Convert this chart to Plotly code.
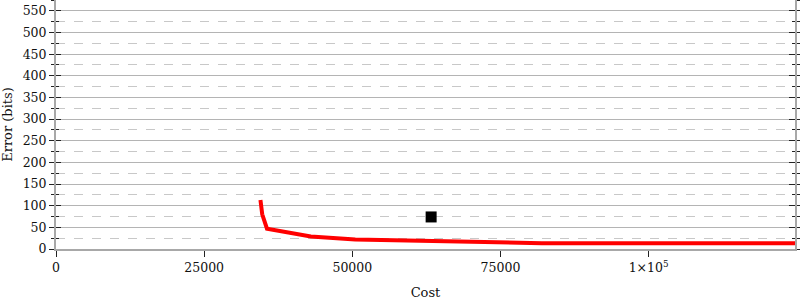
import plotly.graph_objects as go

# Data
cost = [34500, 34800, 35600, 43000, 50500, 60000, 75000, 82000, 124700]
error_bits = [113, 80, 47, 29, 22, 20, 16, 13.5, 13]
point_cost = [63300]
point_err = [74]

x_tickvals = [0, 25000, 50000, 75000, 100000]
x_ticktext = ["0", "25000", "50000", "75000", "1×10<sup>5</sup>"]
y_tickvals = list(range(0, 551, 50))

X_MAX = 124700
Y_MAX = 575

FONT = "DejaVu Serif"
AXIS_GRAY = "#a8a8a8"
TICK_COL = "#222222"

fig = go.Figure()
fig.add_trace(go.Scatter(x=cost, y=error_bits, mode="lines",
                         line=dict(color="#ff0000", width=4), showlegend=False,
                         xaxis="x", yaxis="y"))
fig.add_trace(go.Scatter(x=point_cost, y=point_err, mode="markers",
                         marker=dict(symbol="square", size=11, color="black"),
                         showlegend=False, xaxis="x", yaxis="y"))
# dummy traces for helper axes
for ax in ["y2", "y3", "y4"]:
    fig.add_trace(go.Scatter(x=[None], y=[None], xaxis="x", yaxis=ax,
                             showlegend=False, hoverinfo="skip"))

common_y = dict(range=[0, Y_MAX], tickvals=y_tickvals, tickcolor=TICK_COL,
                tickwidth=1, zeroline=False, fixedrange=True)

fig.update_layout(
    width=800, height=300,
    margin=dict(l=56, r=5, t=0, b=51),
    paper_bgcolor="white", plot_bgcolor="white",
    font=dict(family=FONT, size=12.5, color="#111111"),
    xaxis=dict(range=[0, X_MAX], tickvals=x_tickvals, ticktext=x_ticktext,
               ticks="outside", ticklen=6, tickcolor=TICK_COL, tickwidth=1,
               showgrid=False, zeroline=False, showline=True,
               linecolor=AXIS_GRAY, linewidth=2,
               title=dict(text="Cost", standoff=14, font=dict(size=13))),
    yaxis=dict(**common_y, side="left", ticks="outside", ticklen=5,
               showline=True, linecolor=AXIS_GRAY, linewidth=2,
               showgrid=True, gridcolor="#b4b4b4", gridwidth=1,
               minor=dict(dtick=25, tick0=25, ticks="outside", ticklen=3,
                          tickcolor=TICK_COL, showgrid=True,
                          gridcolor="#c8c8c8", griddash="dash"),
               title=dict(text="Error (bits)", standoff=7, font=dict(size=13))),
    yaxis3=dict(**common_y, overlaying="y", side="left", ticks="inside",
                ticklen=5, showticklabels=False, showgrid=False,
                minor=dict(dtick=25, tick0=25, ticks="inside", ticklen=3,
                           tickcolor=TICK_COL)),
    yaxis2=dict(**common_y, overlaying="y", side="right", ticks="outside",
                ticklen=4, showticklabels=False, showgrid=False,
                showline=True, linecolor=AXIS_GRAY, linewidth=2,
                minor=dict(dtick=25, tick0=25, ticks="outside", ticklen=3,
                           tickcolor=TICK_COL)),
    yaxis4=dict(**common_y, overlaying="y", side="right", ticks="inside",
                ticklen=6, showticklabels=False, showgrid=False,
                minor=dict(dtick=25, tick0=25, ticks="inside", ticklen=3,
                           tickcolor=TICK_COL)),
)

fig.write_html("out.html")
